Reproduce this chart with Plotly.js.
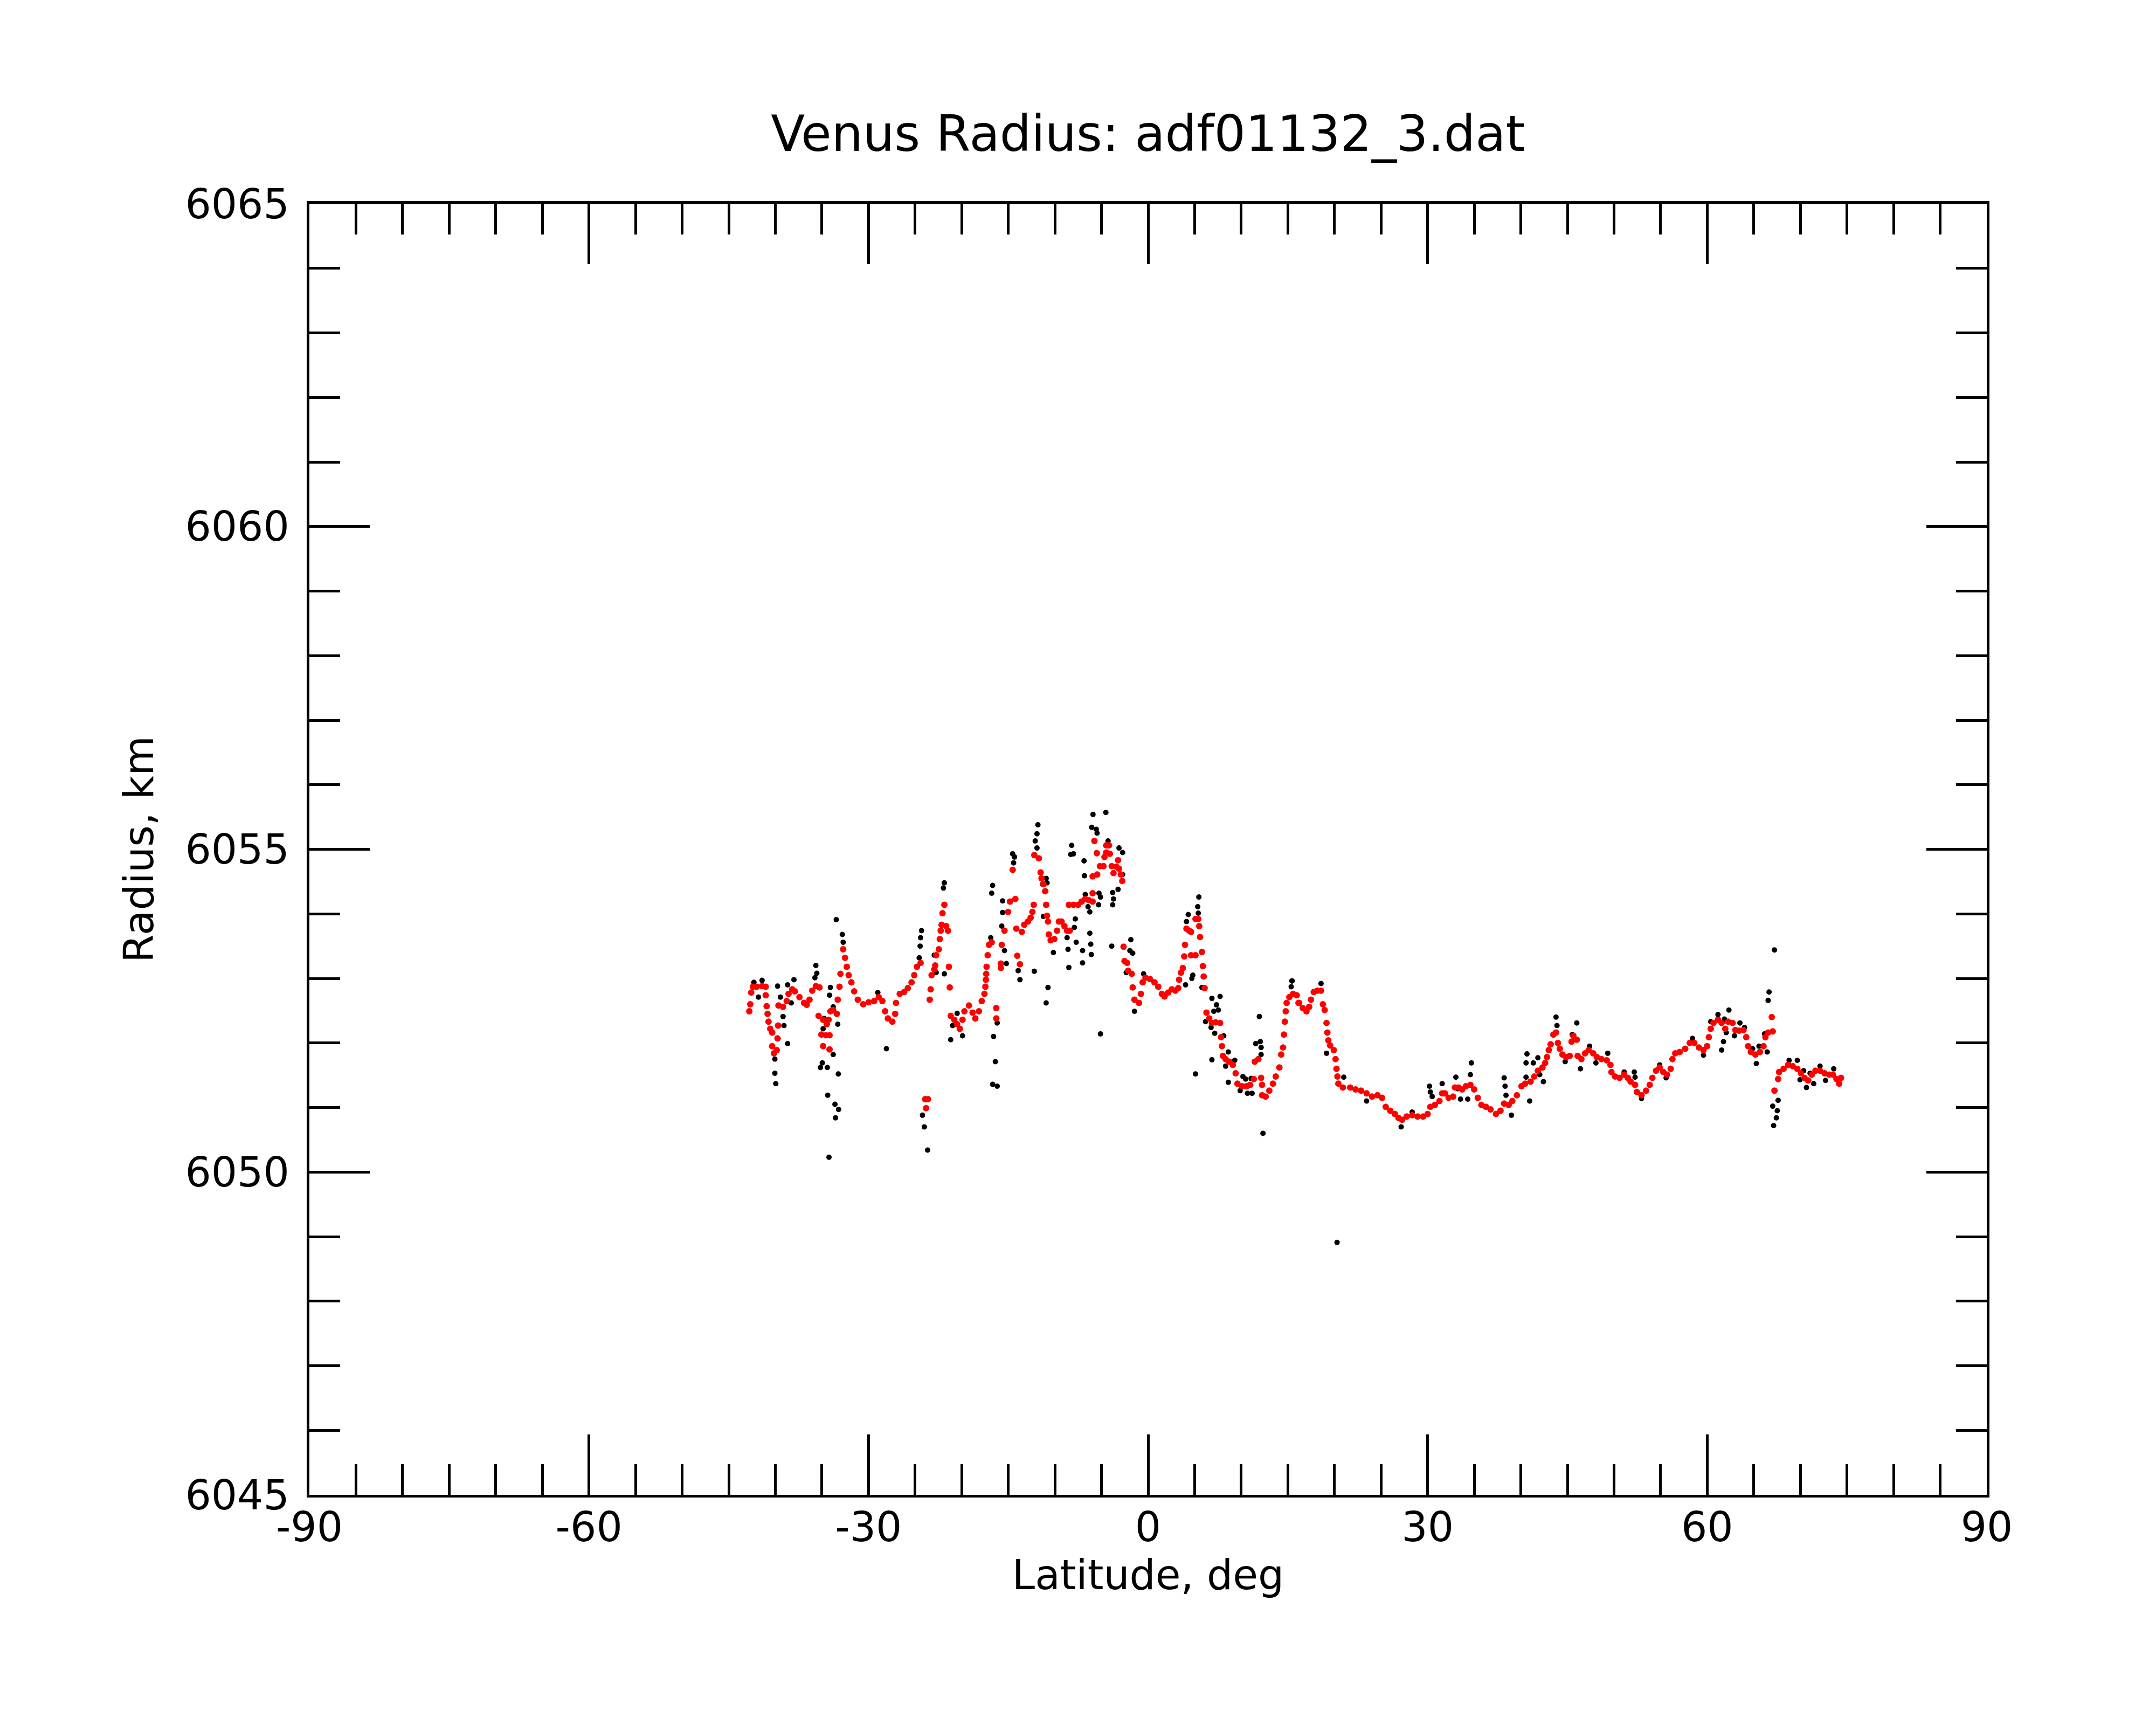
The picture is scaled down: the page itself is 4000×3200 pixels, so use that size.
<!DOCTYPE html>
<html>
<head>
<meta charset="utf-8">
<script src="https://cdn.plot.ly/plotly-3.0.1.min.js"></script>
<style>html,body{margin:0;padding:0;background:#fff;}#chart{width:4000px;height:3200px;}</style>
</head>
<body>
<div id="chart"></div>
<script>
// Latitude (deg), Radius (km) pairs
const redSouth = [
[-42.79,6052.49],[-42.69,6052.60],[-42.59,6052.78],[-42.40,6052.87],[-42.00,6052.87],[-41.42,6052.88],[-41.03,6052.87],[-41.03,6052.74],[-40.93,6052.57],[-40.83,6052.45],[-40.73,6052.33],[-40.54,6052.22],[-40.34,6052.16],[-40.34,6051.95],[-40.15,6051.84],[-39.85,6051.89],[-39.76,6052.07],[-39.70,6052.27],[-39.66,6052.58],[-39.17,6052.56],[-38.78,6052.65],[-38.58,6052.76],[-38.19,6052.83],[-37.90,6052.80],[-37.41,6052.71],[-36.92,6052.62],[-36.63,6052.59],[-36.33,6052.67],[-36.04,6052.81],[-35.65,6052.88],[-35.26,6052.86],[-35.36,6052.42],[-34.87,6052.36],[-34.48,6052.29],[-34.28,6052.36],[-34.09,6052.49],[-33.79,6052.51],[-33.40,6052.45],[-33.30,6052.67],[-33.11,6052.87],[-33.01,6053.07],[-35.06,6052.13],[-34.57,6052.12],[-34.18,6052.12],[-34.87,6051.95],[-34.18,6051.90],[-32.72,6053.45],[-32.52,6053.32],[-32.33,6053.18],[-32.13,6053.05],[-31.84,6052.94],[-31.54,6052.80],[-31.15,6052.67],[-30.57,6052.60],[-29.98,6052.63],[-29.39,6052.65],[-28.90,6052.71],[-28.51,6052.65],[-28.22,6052.49],[-27.92,6052.38],[-27.44,6052.33],[-27.14,6052.45],[-27.05,6052.62],[-26.65,6052.76],[-26.17,6052.79],[-25.78,6052.85],[-25.38,6052.94],[-25.09,6053.05],[-24.80,6053.18],[-24.41,6053.24],[-23.92,6051.13],[-23.62,6051.13],[-23.82,6050.99],[-23.43,6052.67],[-23.33,6052.83],[-23.23,6053.05],[-22.94,6053.14],[-22.84,6053.20],[-22.74,6053.36],[-22.45,6053.45],[-22.35,6053.61],[-22.25,6053.74],[-22.16,6053.83],[-22.06,6054.01],[-21.86,6054.14],[-21.67,6053.81],[-21.47,6053.74],[-21.37,6053.18],[-21.28,6052.86],[-21.18,6052.42],[-20.79,6052.36],[-20.49,6052.29],[-20.20,6052.22],[-19.91,6052.36],[-19.71,6052.49],[-19.22,6052.58],[-18.83,6052.47],[-18.54,6052.38],[-18.15,6052.49],[-17.85,6052.65],[-17.56,6052.76],[-17.46,6052.87],[-17.40,6052.98],[-17.37,6053.07],[-17.33,6053.18],[-17.21,6053.36],[-17.07,6053.52],[-16.78,6053.56],[-16.29,6052.54],[-16.29,6052.38],[-15.80,6053.16],[-15.80,6053.23],[-15.70,6053.52],[-15.41,6053.74],[-15.02,6054.03],[-14.82,6054.19],[-14.53,6054.68],[-14.24,6054.23],[-14.14,6053.77],[-14.04,6053.35],[-13.75,6053.22],[-13.55,6053.72]
];
const redEquator = [
[-13.29,6053.83],[-12.90,6053.88],[-12.60,6053.94],[-12.41,6054.03],[-12.27,6054.14],[-12.21,6054.91],[-11.72,6054.86],[-11.53,6054.64],[-11.43,6054.55],[-11.23,6054.46],[-11.04,6054.35],[-10.94,6054.14],[-10.84,6053.97],[-10.74,6053.88],[-10.65,6053.68],[-10.45,6053.59],[-10.06,6053.61],[-9.77,6053.74],[-9.57,6053.88],[-9.28,6053.88],[-8.98,6053.81],[-8.69,6053.74],[-8.40,6053.74],[-8.50,6054.14],[-8.01,6054.14],[-7.52,6054.14],[-7.13,6054.19],[-6.74,6054.23],[-6.35,6054.21],[-5.95,6054.19],[-5.95,6054.58],[-5.46,6054.61],[-5.17,6054.74],[-4.78,6054.74],[-4.68,6054.88],[-4.49,6054.95],[-4.49,6055.06],[-4.19,6055.06],[-4.10,6054.93],[-3.90,6054.74],[-3.71,6054.63],[-3.41,6054.73],[-3.22,6054.83],[-3.12,6054.70],[-2.92,6054.61],[-2.77,6054.51],[-5.76,6055.13],[-5.50,6054.94],[-5.95,6054.32],[-2.63,6053.49],[-2.53,6053.27],[-2.24,6053.24],[-2.14,6053.12],[-1.75,6053.07],[-1.65,6052.86],[-1.46,6052.67],[-0.97,6052.62],[-0.77,6052.76],[-0.58,6052.94],[-0.28,6053.01],[0.21,6052.99],[0.69,6052.94],[1.09,6052.87],[1.48,6052.76],[1.77,6052.72],[2.16,6052.78],[2.55,6052.83],[2.94,6052.81],[3.24,6052.85],[3.33,6052.98],[3.53,6053.09],[3.73,6053.16],[3.88,6053.34],[3.96,6053.52],[4.12,6053.77],[4.41,6053.74],[4.61,6053.72],[4.61,6053.36],[5.09,6053.36],[5.09,6053.92],[5.39,6053.92],[5.49,6053.81],[5.58,6053.64],[5.78,6053.41],[5.88,6053.19],[5.97,6053.03],[6.07,6052.85],[6.27,6052.47],[6.56,6052.38],[6.85,6052.31],[7.25,6052.32],[7.73,6052.31],[7.83,6052.09],[7.93,6051.95],[8.03,6051.80],[8.32,6051.75],[8.71,6051.71],[9.10,6051.66],[9.40,6051.53],[9.59,6051.37],[10.08,6051.33],[10.57,6051.33],[10.96,6051.35],[11.35,6051.44],[11.45,6051.71],[11.84,6051.75],[12.13,6051.46],[12.23,6051.35],[12.23,6051.19],[12.62,6051.17],[13.01,6051.26],[13.40,6051.37],[13.70,6051.48],[14.09,6051.62],[14.28,6051.82],[14.48,6051.93],[14.58,6052.13],[14.68,6052.33],[14.77,6052.49],[14.87,6052.62],[15.16,6052.71],[15.56,6052.76],[15.95,6052.74],[16.14,6052.62]
];
const redNorthLow = [
[16.21,6052.62],[16.60,6052.54],[17.00,6052.49],[17.29,6052.56],[17.48,6052.67],[17.78,6052.79],[18.17,6052.81],[18.56,6052.81],[18.76,6052.60],[18.95,6052.51],[19.15,6052.31],[19.24,6052.16],[19.34,6052.04],[19.54,6051.96],[19.93,6051.89],[20.12,6051.75],[20.22,6051.60],[20.32,6051.48],[20.42,6051.37],[20.91,6051.31],[21.69,6051.31],[22.27,6051.28],[22.86,6051.26],[23.45,6051.22],[24.03,6051.17],[24.62,6051.19],[25.11,6051.15],[25.50,6051.01],[25.99,6050.95],[26.48,6050.90],[26.87,6050.84],[27.26,6050.81],[27.75,6050.86],[28.34,6050.88],[28.92,6050.86],[29.51,6050.86],[30.00,6050.90],[30.29,6051.01],[30.78,6051.04],[31.27,6051.10],[31.56,6051.22],[31.86,6051.22],[32.25,6051.15],[32.74,6051.17],[32.93,6051.31],[33.32,6051.31],[33.71,6051.28],[34.11,6051.33],[34.59,6051.35],[34.99,6051.28],[35.38,6051.15],[35.77,6051.04],[36.26,6051.01],[36.75,6050.97],[37.33,6050.90],[37.82,6050.95],[38.21,6051.06],[38.70,6051.04],[39.09,6051.10],[39.58,6051.19],[40.07,6051.33],[40.46,6051.37],[41.05,6051.40],[41.44,6051.48],[41.83,6051.57],[42.32,6051.62],[42.61,6051.69],[42.81,6051.78],[43.00,6051.89],[43.20,6051.98],[43.49,6052.13],[43.78,6052.16],[43.98,6052.00],[44.18,6051.91],[44.47,6051.82],[44.86,6051.78],[45.25,6051.80],[45.45,6052.02],[45.64,6052.11]
];
const redNorthHigh = [
[46.01,6052.05],[46.10,6051.80],[46.50,6051.75],[46.89,6051.84],[47.28,6051.89],[47.77,6051.84],[48.16,6051.78],[48.65,6051.75],[49.23,6051.73],[49.62,6051.66],[49.72,6051.55],[50.11,6051.48],[50.60,6051.46],[51.09,6051.51],[51.48,6051.46],[51.78,6051.40],[52.26,6051.35],[52.46,6051.24],[52.95,6051.19],[53.44,6051.26],[53.83,6051.35],[54.12,6051.46],[54.51,6051.57],[54.90,6051.62],[55.29,6051.55],[55.69,6051.51],[56.08,6051.60],[56.27,6051.75],[56.57,6051.84],[57.05,6051.86],[57.64,6051.91],[58.13,6052.00],[58.62,6052.00],[59.11,6051.93],[59.60,6051.89],[59.99,6051.95],[60.18,6052.09],[60.38,6052.22],[60.67,6052.31],[61.16,6052.36],[61.55,6052.31],[61.94,6052.22],[62.24,6052.33],[62.73,6052.31],[63.02,6052.20],[63.41,6052.19],[63.90,6052.20],[64.19,6052.09],[64.39,6051.95],[64.68,6051.86],[65.17,6051.82],[65.66,6051.86],[66.05,6051.95],[66.25,6052.09],[66.54,6052.16],[67.03,6052.18],[66.93,6052.40],[67.22,6051.26],[67.61,6051.44],[67.71,6051.55],[68.20,6051.60],[68.69,6051.66],[69.18,6051.64],[69.67,6051.60],[70.06,6051.53],[70.45,6051.46],[70.84,6051.42],[71.23,6051.51],[71.62,6051.57],[72.11,6051.57],[72.60,6051.53],[73.09,6051.51],[73.48,6051.51],[73.87,6051.44],[74.16,6051.37],[74.36,6051.46]
];
const blackSouth = [
[-42.30,6052.94],[-41.42,6052.97],[-41.81,6052.71],[-40.05,6051.75],[-40.05,6051.53],[-39.95,6051.37],[-39.76,6052.88],[-39.46,6052.71],[-39.17,6052.41],[-39.07,6052.27],[-38.68,6051.99],[-38.29,6052.62],[-38.00,6052.98],[-38.68,6052.90],[-35.65,6053.20],[-35.55,6053.08],[-35.75,6053.01],[-34.09,6052.86],[-34.18,6052.74],[-34.77,6052.38],[-34.87,6052.22],[-33.79,6052.56],[-33.30,6052.29],[-34.96,6051.69],[-35.16,6051.62],[-34.42,6051.62],[-33.79,6051.82],[-33.24,6051.52],[-34.38,6051.19],[-33.60,6051.05],[-33.21,6050.97],[-33.54,6050.84],[-34.24,6050.23],[-33.46,6053.91],[-32.81,6053.68],[-32.72,6053.56],[-29.00,6052.78],[-28.08,6051.91],[-24.31,6053.74],[-24.41,6053.63],[-24.46,6053.50],[-24.56,6053.32],[-24.21,6050.88],[-24.01,6050.70],[-23.66,6050.34],[-21.86,6054.48],[-21.96,6054.40],[-22.94,6053.36],[-22.74,6053.09],[-21.86,6053.07],[-21.18,6052.05],[-20.49,6052.46],[-19.91,6052.11],[-20.98,6052.27],[-16.68,6054.44],[-16.78,6054.32],[-16.88,6053.63],[-16.58,6052.10],[-16.39,6051.71],[-16.68,6051.36],[-16.19,6051.33],[-16.19,6052.31],[-15.61,6054.20],[-15.61,6054.02],[-15.70,6053.81],[-15.41,6053.43],[-15.21,6053.23],[-14.53,6054.93],[-14.33,6054.88],[-14.43,6054.79],[-13.94,6053.12],[-13.75,6052.98]
];
const blackEquator = [
[-11.82,6055.38],[-11.92,6055.24],[-12.11,6055.13],[-11.92,6055.02],[-10.94,6054.55],[-10.84,6054.48],[-11.33,6054.46],[-11.23,6053.96],[-12.21,6053.11],[-10.74,6052.86],[-10.94,6052.62],[-10.16,6053.40],[-8.69,6053.63],[-8.59,6053.45],[-8.50,6053.17],[-8.20,6055.06],[-8.30,6054.92],[-8.01,6054.93],[-7.81,6053.92],[-7.91,6053.79],[-7.71,6053.56],[-7.03,6053.43],[-7.03,6053.24],[-6.87,6054.82],[-6.83,6054.59],[-6.74,6054.30],[-6.44,6054.11],[-6.25,6054.03],[-6.25,6053.70],[-6.15,6053.53],[-6.09,6053.37],[-5.91,6055.54],[-6.05,6055.34],[-5.56,6055.31],[-5.47,6055.25],[-5.27,6054.32],[-5.11,6054.26],[-5.31,6054.14],[-5.11,6052.14],[-4.53,6055.57],[-4.29,6055.13],[-3.90,6053.50],[-3.80,6054.33],[-3.71,6054.23],[-3.80,6054.14],[-3.22,6054.38],[-3.12,6055.02],[-2.73,6054.95],[-2.73,6054.61],[-1.85,6053.60],[-1.95,6053.43],[-1.65,6053.39],[-2.34,6053.09],[-1.46,6052.49],[-0.48,6053.07],[4.31,6053.99],[4.12,6053.88],[4.02,6052.90],[4.80,6053.05],[4.70,6053.00],[5.45,6054.26],[5.33,6054.11],[5.39,6054.01],[5.78,6052.86],[6.85,6052.69],[7.73,6052.72],[7.34,6052.59],[7.54,6052.51],[7.05,6052.49],[6.17,6052.33],[6.76,6052.24],[7.15,6052.15],[8.12,6052.11],[6.85,6051.74],[5.09,6051.52],[8.61,6051.39],[8.61,6051.86],[9.30,6051.73],[8.32,6051.64],[10.18,6051.48],[10.47,6051.44],[9.88,6051.26],[10.67,6051.22],[11.16,6051.22],[11.06,6051.45],[11.94,6052.41],[11.55,6051.99],[12.04,6052.02],[12.13,6051.93],[12.13,6051.82],[12.33,6050.60],[15.46,6052.96],[15.36,6052.87]
];
const blackNorth = [
[15.43,6052.96],[18.56,6052.92],[19.15,6051.84],[21.00,6051.47],[23.45,6051.10],[27.16,6050.70],[28.34,6050.93],[30.20,6051.33],[30.29,6051.24],[30.49,6051.17],[31.56,6051.37],[33.03,6051.47],[33.23,6051.29],[33.52,6051.13],[34.30,6051.13],[34.69,6051.69],[34.59,6051.51],[38.21,6051.46],[38.31,6051.33],[38.41,6051.19],[38.99,6050.88],[40.66,6051.83],[40.56,6051.69],[40.56,6051.47],[40.95,6051.10],[41.34,6051.69],[41.83,6051.77],[42.42,6051.40],[42.03,6051.51],[43.78,6052.40],[43.88,6052.27],[44.76,6051.71],[45.54,6052.13],[20.28,6048.91],
[46.01,6052.31],[45.52,6052.13],[46.40,6051.60],[47.38,6051.95],[48.06,6051.69],[49.33,6051.84],[51.09,6051.55],[52.17,6051.55],[52.26,6051.47],[52.95,6051.14],[54.90,6051.66],[55.59,6051.46],[58.42,6052.07],[59.60,6051.81],[60.38,6052.33],[61.16,6052.44],[62.33,6052.51],[61.85,6052.37],[62.04,6052.16],[61.75,6052.02],[61.55,6051.89],[62.92,6052.11],[63.51,6052.31],[64.00,6052.24],[65.27,6051.68],[65.56,6051.95],[66.44,6051.86],[64.88,6051.91],[67.22,6053.44],[66.64,6052.79],[66.54,6052.66],[66.15,6052.14],[67.61,6051.11],[67.03,6051.02],[67.52,6050.95],[67.42,6050.84],[67.13,6050.72],[68.79,6051.73],[69.67,6051.73],[69.96,6051.43],[70.35,6051.57],[70.65,6051.31],[71.04,6051.53],[71.43,6051.37],[72.11,6051.64],[72.70,6051.42],[73.58,6051.60]
];
const xTickVals = [-90, -60, -30, 0, 30, 60, 90];
const xTickText = ['-90', '-60', '-30', '0', '30', '60', '90'];
const yTickVals = [6045, 6050, 6055, 6060, 6065];
const yTickText = ['6045', '6050', '6055', '6060', '6065'];

const redAll = redSouth.concat(redEquator, redNorthLow, redNorthHigh);
const blackAll = blackSouth.concat(blackEquator, blackNorth);

const font = 'DejaVu Sans';
const traces = [
  {type: 'scatter', mode: 'markers', x: blackAll.map(p => p[0]), y: blackAll.map(p => p[1]),
   marker: {color: 'black', size: 10, line: {width: 0}}, hoverinfo: 'x+y'},
  {type: 'scatter', mode: 'markers', x: redAll.map(p => p[0]), y: redAll.map(p => p[1]),
   marker: {color: 'red', size: 12, line: {width: 0}}, hoverinfo: 'x+y'}
];

const axisCommon = {
  ticks: 'inside', tickwidth: 5, tickcolor: 'black', ticklen: 112,
  showline: true, linewidth: 5, linecolor: 'black', mirror: 'ticks',
  showgrid: false, zeroline: false,
  tickfont: {family: font, size: 76, color: 'black'}
};

const layout = {
  width: 4000, height: 3200,
  margin: {l: 574, r: 314, t: 378, b: 427, pad: 0},
  paper_bgcolor: 'white', plot_bgcolor: 'white',
  showlegend: false,
  title: {text: 'Venus Radius: adf01132_3.dat', font: {family: font, size: 92, color: 'black'},
          xref: 'paper', x: 0.5, xanchor: 'center', yref: 'container', y: 1 - 248/3200, yanchor: 'middle'},
  xaxis: Object.assign({}, axisCommon, {
    range: [-90, 90], tickmode: 'array', tickvals: xTickVals, ticktext: xTickText,
    ticklabelstandoff: -10,
    minor: {dtick: 5, tick0: 0, ticks: 'inside', ticklen: 57, tickwidth: 5, tickcolor: 'black', showgrid: false},
    title: {text: 'Latitude, deg', font: {family: font, size: 76, color: 'black'}, standoff: 2}
  }),
  yaxis: Object.assign({}, axisCommon, {
    range: [6045, 6065], tickmode: 'array', tickvals: yTickVals, ticktext: yTickText,
    ticklabelstandoff: 17,
    minor: {dtick: 1, tick0: 6045, ticks: 'inside', ticklen: 57, tickwidth: 5, tickcolor: 'black', showgrid: false},
    title: {text: 'Radius, km', font: {family: font, size: 76, color: 'black'}, standoff: 35}
  })
};

Plotly.newPlot('chart', traces, layout, {displayModeBar: false, staticPlot: true});
</script>
</body>
</html>
